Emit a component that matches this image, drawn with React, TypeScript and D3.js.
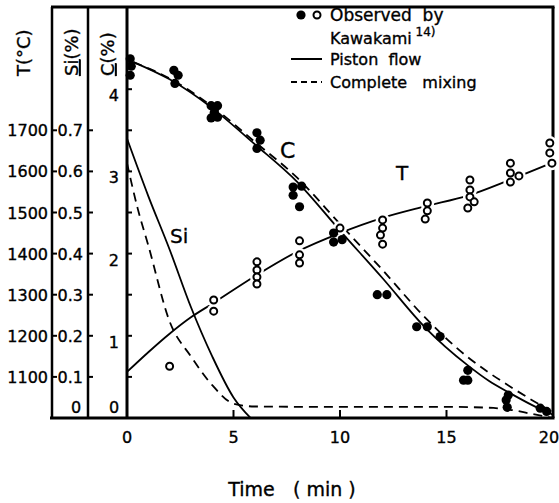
import React from "react";
import * as d3 from "d3";

// ---- data ----
const curveTimes = [0.3, 2, 4, 6, 8, 10, 12, 14, 16, 17, 18, 19, 20];
const pistonC = [4.33, 4.12, 3.77, 3.33, 2.87, 2.28, 1.7, 1.1, 0.64, 0.45, 0.3, 0.16, 0.04];
const mixingC = [4.33, 4.13, 3.79, 3.36, 2.92, 2.36, 1.8, 1.22, 0.74, 0.55, 0.38, 0.22, 0.07];

const siPistonTimes = [0, 1, 2, 3, 4, 5, 5.8];
const siPiston = [0.68, 0.54, 0.41, 0.27, 0.15, 0.05, 0];
const siMixingTimes = [0, 0.5, 1, 2, 3, 4, 5, 6, 10, 15, 17, 18, 19, 20];
const siMixing = [0.62, 0.51, 0.42, 0.235, 0.15, 0.08, 0.035, 0.028, 0.027, 0.027, 0.025, 0.02, 0.01, 0];

const tLineTimes = [0, 1, 2, 3, 4, 6, 8, 10, 12, 14, 16, 18, 20];
const tLine = [1112, 1160, 1205, 1245, 1278, 1345, 1405, 1450, 1487, 1515, 1541, 1580, 1622];

const obsCTime = [0.15, 0.2, 0.15, 2.2, 2.4, 2.25, 3.95, 4.25, 3.95, 4.25, 4.1, 6.1, 6.25, 6.1, 7.8, 8.2, 7.8, 8.1, 9.7, 9.7, 10.1, 11.75, 12.2, 13.6, 14.1, 14.7, 16.0, 15.8, 16.0, 17.8, 17.85, 17.9, 19.4, 19.7];
const obsC = [4.37, 4.28, 4.17, 4.23, 4.17, 4.07, 3.8, 3.8, 3.65, 3.66, 3.72, 3.47, 3.38, 3.28, 2.81, 2.82, 2.71, 2.57, 2.25, 2.14, 2.17, 1.5, 1.5, 1.11, 1.11, 0.99, 0.58, 0.46, 0.46, 0.22, 0.13, 0.28, 0.12, 0.08];

const obsTTime = [2.0, 4.07, 4.07, 6.1, 6.1, 6.1, 6.1, 8.1, 8.1, 8.1, 10.0, 12.0, 12.0, 11.9, 12.0, 14.1, 14.1, 14.0, 16.1, 16.1, 16.1, 16.3, 16.0, 18.0, 18.0, 18.0, 18.4, 19.85, 19.85, 19.95];
const obsT = [1126, 1287, 1260, 1380, 1360, 1343, 1326, 1431, 1397, 1377, 1462, 1482, 1462, 1445, 1423, 1523, 1504, 1484, 1579, 1555, 1538, 1526, 1511, 1620, 1596, 1574, 1589, 1669, 1645, 1620];

const xTicks = [0, 5, 10, 15, 20];
const tTicks = [1100, 1200, 1300, 1400, 1500, 1600, 1700];
const siTicks = [0.1, 0.2, 0.3, 0.4, 0.5, 0.6, 0.7];
const cTicks = [0.5, 1, 1.5, 2, 2.5, 3, 3.5, 4];
const cLabels = [1, 2, 3, 4];

const FONT = "'DejaVu Sans', sans-serif";

export default function App() {
  const X0 = 127, X1 = 553, Y0 = 7, Y1 = 418;
  const xS = d3.scaleLinear().domain([0, 20]).range([X0, X1]);
  const yC = d3.scaleLinear().domain([0, 5]).range([Y1, Y0]);
  const yT = d3.scaleLinear().domain([1000, 2000]).range([Y1, Y0]);
  const ySi = d3.scaleLinear().domain([0, 1]).range([Y1, Y0]);
  const TX = 52, SX = 88;

  const mk = (ts: number[], vs: number[], ys: d3.ScaleLinear<number, number>) =>
    d3.line<number>().x((_, i) => xS(ts[i])).y((v) => ys(v)).curve(d3.curveMonotoneX)(vs) || "";

  const lw = 1.8;
  const txt = { stroke: "#000", strokeWidth: 0.35 };
  return (
    <svg width={559} height={503} style={{ display: "block", position: "absolute", left: 0, top: 0 }} fontFamily={FONT}>
      <rect x={0} y={0} width={559} height={503} fill="#fff" />
      <g>
        {/* frame */}
        <line x1={TX - 1} x2={X1 + 1.5} y1={Y0} y2={Y0} stroke="#000" strokeWidth={3} />
        <line x1={TX - 2} x2={X1 + 1.5} y1={Y1} y2={Y1} stroke="#000" strokeWidth={3} />
        <line x1={TX} x2={TX} y1={Y0} y2={Y1} stroke="#000" strokeWidth={2.5} />
        <line x1={SX} x2={SX} y1={Y0} y2={Y1} stroke="#000" strokeWidth={2.5} />
        <line x1={X0} x2={X0} y1={Y0} y2={Y1} stroke="#000" strokeWidth={3} />
        <line x1={X1} x2={X1} y1={Y0} y2={Y1} stroke="#000" strokeWidth={3} />

        <g {...txt}>
          {/* T axis */}
          {tTicks.map((t) => (
            <text key={"tl" + t} x={TX - 4} y={yT(t) + 6} fontSize={16} textAnchor="end">{t}</text>
          ))}
          {/* Si axis */}
          {siTicks.map((s) => (
            <text key={"sl" + s} x={SX - 5} y={ySi(s) + 6} fontSize={16} textAnchor="end">{s.toFixed(1)}</text>
          ))}
          <text x={SX - 12} y={Y1 - 5} fontSize={16} textAnchor="middle">0</text>
          {cLabels.map((c) => (
            <text key={"cl" + c} x={X0 - 8} y={yC(c) + 12} fontSize={16} textAnchor="end">{c}</text>
          ))}
          <text x={X0 - 13} y={Y1 - 5} fontSize={16} textAnchor="middle">0</text>
          {xTicks.map((t) => (
            <text key={"xl" + t} x={t === 20 ? xS(t) - 4 : xS(t)} y={Y1 + 25} fontSize={16} textAnchor="middle">{t}</text>
          ))}
          <text x={292} y={496} fontSize={19} textAnchor="middle" style={{ whiteSpace: "pre" }}>{"Time   ( min )"}</text>

          {/* axis titles */}
          <text transform="translate(30,76) rotate(-90)" fontSize={18}>T(°C)</text>
          <text transform="translate(78,76) rotate(-90)" fontSize={18}>
            <tspan style={{ textDecoration: "underline" }}>Si</tspan>(%)
          </text>
          <text transform="translate(114,76) rotate(-90)" fontSize={18}>
            <tspan style={{ textDecoration: "underline" }}>C</tspan>(%)
          </text>
        </g>

        {tTicks.map((t) => (
          <line key={"t" + t} x1={TX} x2={TX + 5} y1={yT(t)} y2={yT(t)} stroke="#000" strokeWidth={2} />
        ))}
        {siTicks.map((s) => (
          <line key={"s" + s} x1={SX} x2={SX + 5} y1={ySi(s)} y2={ySi(s)} stroke="#000" strokeWidth={2} />
        ))}
        {cTicks.map((c) => (
          <line key={"c" + c} x1={X0} x2={X0 + 5} y1={yC(c)} y2={yC(c)} stroke="#000" strokeWidth={2} />
        ))}
        {xTicks.filter((t) => t > 0 && t < 20).map((t) => (
          <line key={"x" + t} x1={xS(t)} x2={xS(t)} y1={Y1} y2={Y1 - 8} stroke="#000" strokeWidth={2} />
        ))}

        {/* curves */}
        <path d={mk(curveTimes, pistonC, yC)} fill="none" stroke="#000" strokeWidth={lw} />
        <path d={mk(curveTimes, mixingC, yC)} fill="none" stroke="#000" strokeWidth={lw} strokeDasharray="9,6" />
        <path d={mk(siPistonTimes, siPiston, ySi)} fill="none" stroke="#000" strokeWidth={lw} />
        <path d={mk(siMixingTimes, siMixing, ySi)} fill="none" stroke="#000" strokeWidth={lw} strokeDasharray="9,6" />
        <path d={mk(tLineTimes, tLine, yT)} fill="none" stroke="#000" strokeWidth={lw} />

        {/* observed T (open) */}
        {obsT.map((v, i) => (
          <circle key={"h" + i} cx={xS(obsTTime[i])} cy={yT(v)} r={7} fill="#fff" />
        ))}
        {obsT.map((v, i) => (
          <circle key={"o" + i} cx={xS(obsTTime[i])} cy={yT(v)} r={3.5} fill="#fff" stroke="#000" strokeWidth={2} />
        ))}
        {/* observed C (filled) */}
        {obsC.map((v, i) => (
          <circle key={"f" + i} cx={xS(obsCTime[i])} cy={yC(v)} r={4.6} fill="#000" />
        ))}

        <g {...txt}>
          {/* curve labels */}
          <text x={280} y={158} fontSize={22}>C</text>
          <text x={170} y={243} fontSize={20}>Si</text>
          <text x={396} y={180} fontSize={20}>T</text>

          {/* legend text */}
          <text x={330} y={21} fontSize={17} style={{ whiteSpace: "pre" }}>{"Observed  by"}</text>
          <text x={330} y={44} fontSize={16}>Kawakami<tspan dy={-8} fontSize={12}> 14)</tspan></text>
          <text x={330} y={65} fontSize={16} style={{ whiteSpace: "pre" }}>{"Piston  flow"}</text>
          <text x={330} y={88} fontSize={16} style={{ whiteSpace: "pre" }}>{"Complete   mixing"}</text>
        </g>
        <circle cx={301} cy={15} r={4.6} fill="#000" />
        <circle cx={317} cy={15} r={3.5} fill="#fff" stroke="#000" strokeWidth={2} />
        <line x1={291} x2={322} y1={59} y2={59} stroke="#000" strokeWidth={2} />
        <line x1={291} x2={322} y1={82} y2={82} stroke="#000" strokeWidth={2} strokeDasharray="6,4" />
      </g>
    </svg>
  );
}
